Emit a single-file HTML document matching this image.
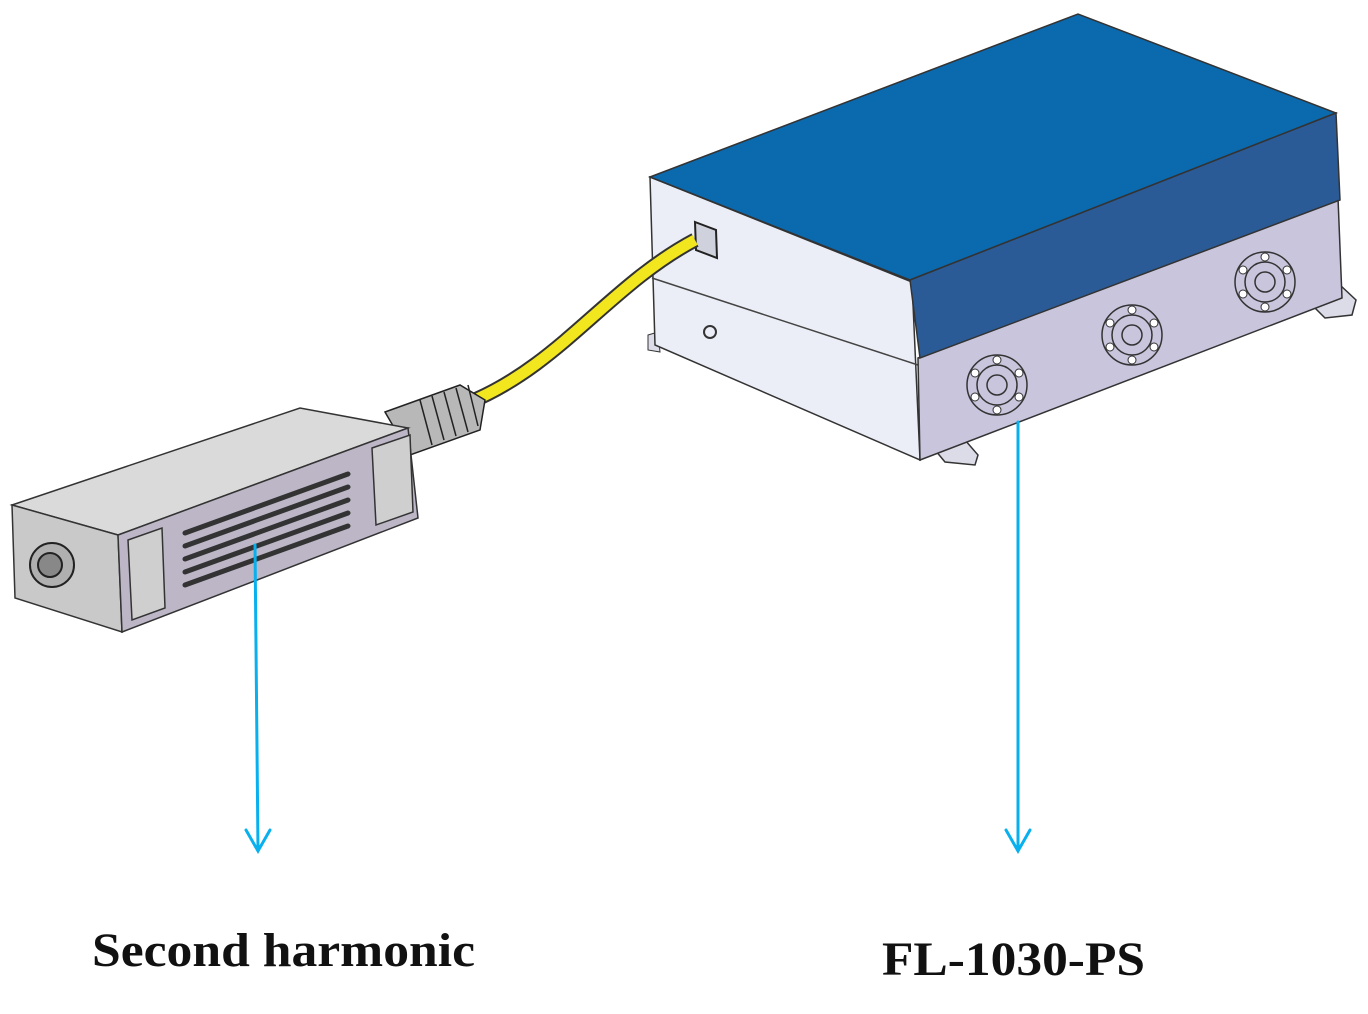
<!DOCTYPE html>
<html><head><meta charset="utf-8"><style>
html,body{margin:0;padding:0;background:#fff;width:1368px;height:1014px;overflow:hidden}
svg{display:block}
text{font-family:"Liberation Serif",serif;font-weight:bold;fill:#111}
</style></head><body>
<svg width="1368" height="1014" viewBox="0 0 1368 1014" xmlns="http://www.w3.org/2000/svg">
<polygon points="935,432 965,440 978,455 975,465 945,462 935,450" fill="#dcdce8" stroke="#333" stroke-width="1.5"/>
<polygon points="1310,290 1340,285 1356,300 1352,315 1325,318 1312,305" fill="#dcdce8" stroke="#333" stroke-width="1.5"/>
<polygon points="648,335 658,332 660,352 648,350" fill="#dcdce8" stroke="#333"/>
<polygon points="650,177 912,282 920,460 655,345" fill="#eceef7" stroke="#333" stroke-width="1.5"/>
<line x1="652" y1="278" x2="918" y2="365" stroke="#444" stroke-width="1.5"/>
<polygon points="918,358 1338,198 1342,298 920,460" fill="#c9c5dd" stroke="#333" stroke-width="1.5"/>
<polygon points="650,177 1078,14 1336,113 910,280" fill="#0b69ae" stroke="#333" stroke-width="1.5"/>
<polygon points="910,280 1336,113 1340,200 920,358" fill="#2b5b96" stroke="#333" stroke-width="1.5"/>
<g fill="none" stroke="#333" stroke-width="1.5">
<g transform="translate(997,385)"><circle r="30"/><circle r="20"/><circle r="10"/></g>
<g transform="translate(1132,335)"><circle r="30"/><circle r="20"/><circle r="10"/></g>
<g transform="translate(1265,282)"><circle r="30"/><circle r="20"/><circle r="10"/></g>
</g>
<g fill="#fff" stroke="#333" stroke-width="1">
<g transform="translate(997,385)"><circle cx="0" cy="-25" r="4"/><circle cx="22" cy="-12" r="4"/><circle cx="22" cy="12" r="4"/><circle cx="0" cy="25" r="4"/><circle cx="-22" cy="12" r="4"/><circle cx="-22" cy="-12" r="4"/></g>
<g transform="translate(1132,335)"><circle cx="0" cy="-25" r="4"/><circle cx="22" cy="-12" r="4"/><circle cx="22" cy="12" r="4"/><circle cx="0" cy="25" r="4"/><circle cx="-22" cy="12" r="4"/><circle cx="-22" cy="-12" r="4"/></g>
<g transform="translate(1265,282)"><circle cx="0" cy="-25" r="4"/><circle cx="22" cy="-12" r="4"/><circle cx="22" cy="12" r="4"/><circle cx="0" cy="25" r="4"/><circle cx="-22" cy="12" r="4"/><circle cx="-22" cy="-12" r="4"/></g>
</g>
<polygon points="695,222 716,230 717,258 696,250" fill="#cfd2dc" stroke="#222" stroke-width="2"/>
<circle cx="710" cy="332" r="6" fill="none" stroke="#333" stroke-width="2"/>
<path d="M695,240 C610,285 560,365 470,402" fill="none" stroke="#333" stroke-width="15"/>
<path d="M695,240 C610,285 560,365 470,402" fill="none" stroke="#f2e61e" stroke-width="11"/>
<g stroke="#222" stroke-width="1.5" fill="#b8b8b8">
<polygon points="385,412 460,385 485,400 480,430 410,455"/>
<line x1="420" y1="400" x2="432" y2="445"/><line x1="432" y1="396" x2="444" y2="440"/><line x1="444" y1="392" x2="456" y2="436"/><line x1="456" y1="388" x2="468" y2="432"/><line x1="468" y1="385" x2="478" y2="426"/>
</g>
<polygon points="12,505 300,408 408,428 118,535" fill="#dadada" stroke="#333" stroke-width="1.5"/>
<polygon points="12,505 118,535 122,632 15,598" fill="#c9c9c9" stroke="#333" stroke-width="1.5"/>
<polygon points="118,535 408,428 418,518 122,632" fill="#bdb6c6" stroke="#333" stroke-width="1.5"/>
<circle cx="52" cy="565" r="22" fill="#b0b0b0" stroke="#222" stroke-width="2"/>
<circle cx="50" cy="565" r="12" fill="#888" stroke="#222" stroke-width="2"/>
<g stroke="#333" stroke-width="5" stroke-linecap="round">
<line x1="185" y1="533" x2="348" y2="474"/><line x1="185" y1="546" x2="348" y2="487"/><line x1="185" y1="559" x2="348" y2="500"/><line x1="185" y1="572" x2="348" y2="513"/><line x1="185" y1="585" x2="348" y2="526"/>
</g>
<g stroke="#333" stroke-width="1.5" fill="#cfcfcf">
<polygon points="128,540 162,528 165,608 132,620"/>
<polygon points="372,448 410,435 413,512 376,525"/>
</g>
<g stroke="#08b0ee" stroke-width="3" fill="none" stroke-linecap="round">
<line x1="255" y1="545" x2="258" y2="850"/>
<polyline points="246,830 258,851 270,830"/>
<line x1="1018" y1="422" x2="1018" y2="850"/>
<polyline points="1006,830 1018,851 1030,830"/>
</g>
<text x="92" y="966" font-size="48" textLength="383" lengthAdjust="spacingAndGlyphs">Second harmonic</text>
<text x="882" y="975" font-size="48" textLength="263" lengthAdjust="spacingAndGlyphs">FL-1030-PS</text>
</svg>
</body></html>
